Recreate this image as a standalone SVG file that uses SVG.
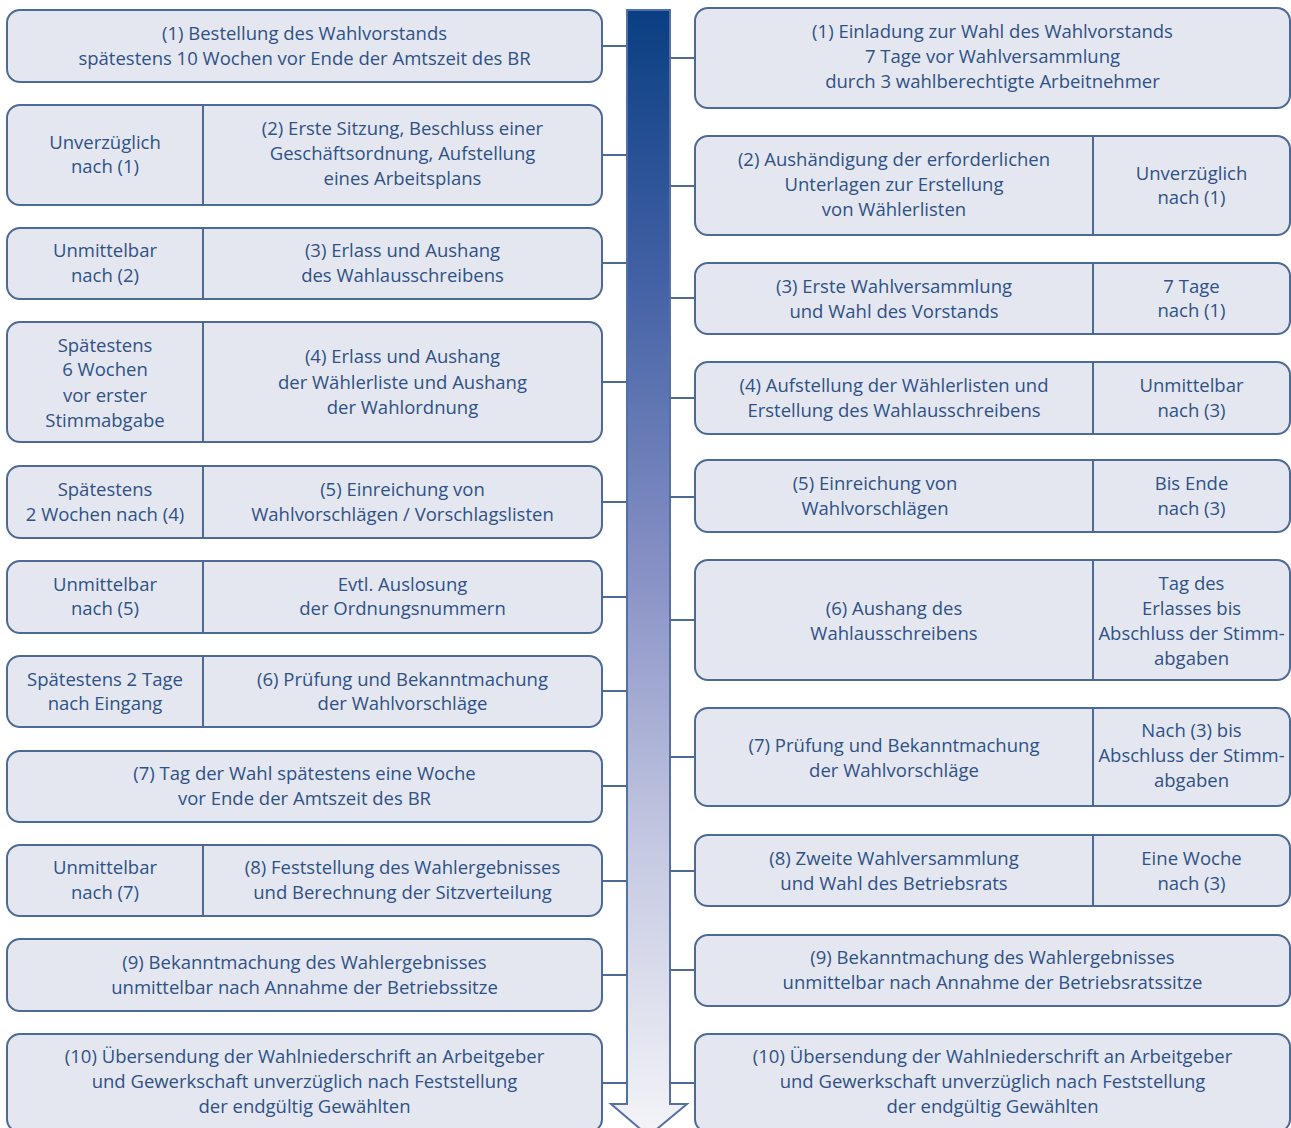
<svg xmlns="http://www.w3.org/2000/svg" width="1291" height="1128" viewBox="0 0 1291 1128">
<style>
.box{fill:#e4e7ef;stroke:#4d6995;stroke-width:2}
.dv{stroke:#4d6995;stroke-width:2}
.con line{stroke:#4d6995;stroke-width:2}
text{font-family:"Open Sans","Liberation Sans",sans-serif;font-size:18.5px;fill:#2f5186;text-anchor:middle}
</style>
<defs>
<linearGradient id="g" x1="0" y1="0" x2="0" y2="1">
<stop offset="0" stop-color="#0a3e82"/>
<stop offset="0.25" stop-color="#4563a6"/>
<stop offset="0.5" stop-color="#8891c5"/>
<stop offset="0.75" stop-color="#c6cae2"/>
<stop offset="1" stop-color="#f4f4f8"/>
</linearGradient>
</defs>
<rect width="1291" height="1128" fill="#ffffff"/>
<g id="timeline-arrow">
<path d="M627,10 H670 V1104 H687 L648.5,1136 L611,1104 H627 Z" fill="url(#g)" stroke="#5470a8" stroke-width="2"/>
</g>
<g class="con" id="connectors">
<line x1="602" y1="46" x2="627" y2="46"/>
<line x1="602" y1="155" x2="627" y2="155"/>
<line x1="602" y1="263" x2="627" y2="263"/>
<line x1="602" y1="382" x2="627" y2="382"/>
<line x1="602" y1="502" x2="627" y2="502"/>
<line x1="602" y1="597" x2="627" y2="597"/>
<line x1="602" y1="691" x2="627" y2="691"/>
<line x1="602" y1="786" x2="627" y2="786"/>
<line x1="602" y1="881" x2="627" y2="881"/>
<line x1="602" y1="975" x2="627" y2="975"/>
<line x1="602" y1="1083" x2="627" y2="1083"/>
<line x1="670" y1="58" x2="695" y2="58"/>
<line x1="670" y1="186" x2="695" y2="186"/>
<line x1="670" y1="298" x2="695" y2="298"/>
<line x1="670" y1="398" x2="695" y2="398"/>
<line x1="670" y1="497" x2="695" y2="497"/>
<line x1="670" y1="620" x2="695" y2="620"/>
<line x1="670" y1="757" x2="695" y2="757"/>
<line x1="670" y1="871" x2="695" y2="871"/>
<line x1="670" y1="970" x2="695" y2="970"/>
<line x1="670" y1="1083" x2="695" y2="1083"/>
</g>
<g id="L1"><rect class="box" x="7" y="10" width="595" height="72" rx="13"/>
<text x="304.5" y="40">(1) Bestellung des Wahlvorstands</text>
<text x="304.5" y="65">spätestens 10 Wochen vor Ende der Amtszeit des BR</text></g>
<g id="L2"><rect class="box" x="7" y="105" width="595" height="100" rx="13"/><line class="dv" x1="203" y1="105" x2="203" y2="205"/>
<text x="105" y="149">Unverzüglich</text><text x="105" y="173">nach (1)</text>
<text x="402.5" y="135">(2) Erste Sitzung, Beschluss einer</text><text x="402.5" y="160">Geschäftsordnung, Aufstellung</text><text x="402.5" y="185">eines Arbeitsplans</text></g>
<g id="L3"><rect class="box" x="7" y="228" width="595" height="71" rx="13"/><line class="dv" x1="203" y1="228" x2="203" y2="299"/>
<text x="105" y="257">Unmittelbar</text><text x="105" y="282">nach (2)</text>
<text x="402.5" y="257">(3) Erlass und Aushang</text><text x="402.5" y="282">des Wahlausschreibens</text></g>
<g id="L4"><rect class="box" x="7" y="322" width="595" height="120" rx="13"/><line class="dv" x1="203" y1="322" x2="203" y2="442"/>
<text x="105" y="352">Spätestens</text><text x="105" y="376">6 Wochen</text><text x="105" y="402">vor erster</text><text x="105" y="427">Stimmabgabe</text>
<text x="402.5" y="363">(4) Erlass und Aushang</text><text x="402.5" y="389">der Wählerliste und Aushang</text><text x="402.5" y="414">der Wahlordnung</text></g>
<g id="L5"><rect class="box" x="7" y="466" width="595" height="72" rx="13"/><line class="dv" x1="203" y1="466" x2="203" y2="538"/>
<text x="105" y="496">Spätestens</text><text x="105" y="521">2 Wochen nach (4)</text>
<text x="402.5" y="496">(5) Einreichung von</text><text x="402.5" y="521">Wahlvorschlägen / Vorschlagslisten</text></g>
<g id="L6"><rect class="box" x="7" y="561" width="595" height="72" rx="13"/><line class="dv" x1="203" y1="561" x2="203" y2="633"/>
<text x="105" y="591">Unmittelbar</text><text x="105" y="615">nach (5)</text>
<text x="402.5" y="591">Evtl. Auslosung</text><text x="402.5" y="615">der Ordnungsnummern</text></g>
<g id="L7"><rect class="box" x="7" y="656" width="595" height="71" rx="13"/><line class="dv" x1="203" y1="656" x2="203" y2="727"/>
<text x="105" y="686">Spätestens 2 Tage</text><text x="105" y="710">nach Eingang</text>
<text x="402.5" y="686">(6) Prüfung und Bekanntmachung</text><text x="402.5" y="710">der Wahlvorschläge</text></g>
<g id="L8"><rect class="box" x="7" y="751" width="595" height="71" rx="13"/>
<text x="304.5" y="780">(7) Tag der Wahl spätestens eine Woche</text>
<text x="304.5" y="805">vor Ende der Amtszeit des BR</text></g>
<g id="L9"><rect class="box" x="7" y="845" width="595" height="71" rx="13"/><line class="dv" x1="203" y1="845" x2="203" y2="916"/>
<text x="105" y="874">Unmittelbar</text><text x="105" y="899">nach (7)</text>
<text x="402.5" y="874">(8) Feststellung des Wahlergebnisses</text><text x="402.5" y="899">und Berechnung der Sitzverteilung</text></g>
<g id="L10"><rect class="box" x="7" y="939" width="595" height="72" rx="13"/>
<text x="304.5" y="969">(9) Bekanntmachung des Wahlergebnisses</text>
<text x="304.5" y="994">unmittelbar nach Annahme der Betriebssitze</text></g>
<g id="L11"><rect class="box" x="7" y="1034" width="595" height="98" rx="13"/>
<text x="304.5" y="1063">(10) Übersendung der Wahlniederschrift an Arbeitgeber</text>
<text x="304.5" y="1088">und Gewerkschaft unverzüglich nach Feststellung</text>
<text x="304.5" y="1113">der endgültig Gewählten</text></g>
<g id="R1"><rect class="box" x="695" y="8" width="595" height="100" rx="13"/>
<text x="992.5" y="38">(1) Einladung zur Wahl des Wahlvorstands</text>
<text x="992.5" y="63">7 Tage vor Wahlversammlung</text>
<text x="992.5" y="88">durch 3 wahlberechtigte Arbeitnehmer</text></g>
<g id="R2"><rect class="box" x="695" y="136" width="595" height="99" rx="13"/><line class="dv" x1="1093" y1="136" x2="1093" y2="235"/>
<text x="894" y="166">(2) Aushändigung der erforderlichen</text><text x="894" y="191">Unterlagen zur Erstellung</text><text x="894" y="216">von Wählerlisten</text>
<text x="1191.5" y="180">Unverzüglich</text><text x="1191.5" y="204">nach (1)</text></g>
<g id="R3"><rect class="box" x="695" y="263" width="595" height="71" rx="13"/><line class="dv" x1="1093" y1="263" x2="1093" y2="334"/>
<text x="894" y="293">(3) Erste Wahlversammlung</text><text x="894" y="318">und Wahl des Vorstands</text>
<text x="1191.5" y="293">7 Tage</text><text x="1191.5" y="317">nach (1)</text></g>
<g id="R4"><rect class="box" x="695" y="362" width="595" height="72" rx="13"/><line class="dv" x1="1093" y1="362" x2="1093" y2="434"/>
<text x="894" y="392">(4) Aufstellung der Wählerlisten und</text><text x="894" y="417">Erstellung des Wahlausschreibens</text>
<text x="1191.5" y="392">Unmittelbar</text><text x="1191.5" y="417">nach (3)</text></g>
<g id="R5"><rect class="box" x="695" y="460" width="595" height="72" rx="13"/><line class="dv" x1="1093" y1="460" x2="1093" y2="532"/>
<text x="875" y="490">(5) Einreichung von</text><text x="875" y="515">Wahlvorschlägen</text>
<text x="1191.5" y="490">Bis Ende</text><text x="1191.5" y="515">nach (3)</text></g>
<g id="R6"><rect class="box" x="695" y="560" width="595" height="120" rx="13"/><line class="dv" x1="1093" y1="560" x2="1093" y2="680"/>
<text x="894" y="615">(6) Aushang des</text><text x="894" y="640">Wahlausschreibens</text>
<text x="1191.5" y="590">Tag des</text><text x="1191.5" y="615">Erlasses bis</text><text x="1191.5" y="640">Abschluss der Stimm-</text><text x="1191.5" y="665">abgaben</text></g>
<g id="R7"><rect class="box" x="695" y="708" width="595" height="98" rx="13"/><line class="dv" x1="1093" y1="708" x2="1093" y2="806"/>
<text x="894" y="752">(7) Prüfung und Bekanntmachung</text><text x="894" y="777">der Wahlvorschläge</text>
<text x="1191.5" y="737">Nach (3) bis</text><text x="1191.5" y="762">Abschluss der Stimm-</text><text x="1191.5" y="787">abgaben</text></g>
<g id="R8"><rect class="box" x="695" y="835" width="595" height="71" rx="13"/><line class="dv" x1="1093" y1="835" x2="1093" y2="906"/>
<text x="894" y="865">(8) Zweite Wahlversammlung</text><text x="894" y="890">und Wahl des Betriebsrats</text>
<text x="1191.5" y="865">Eine Woche</text><text x="1191.5" y="890">nach (3)</text></g>
<g id="R9"><rect class="box" x="695" y="935" width="595" height="71" rx="13"/>
<text x="992.5" y="964">(9) Bekanntmachung des Wahlergebnisses</text>
<text x="992.5" y="989">unmittelbar nach Annahme der Betriebsratssitze</text></g>
<g id="R10"><rect class="box" x="695" y="1034" width="595" height="98" rx="13"/>
<text x="992.5" y="1063">(10) Übersendung der Wahlniederschrift an Arbeitgeber</text>
<text x="992.5" y="1088">und Gewerkschaft unverzüglich nach Feststellung</text>
<text x="992.5" y="1113">der endgültig Gewählten</text></g>
</svg>
